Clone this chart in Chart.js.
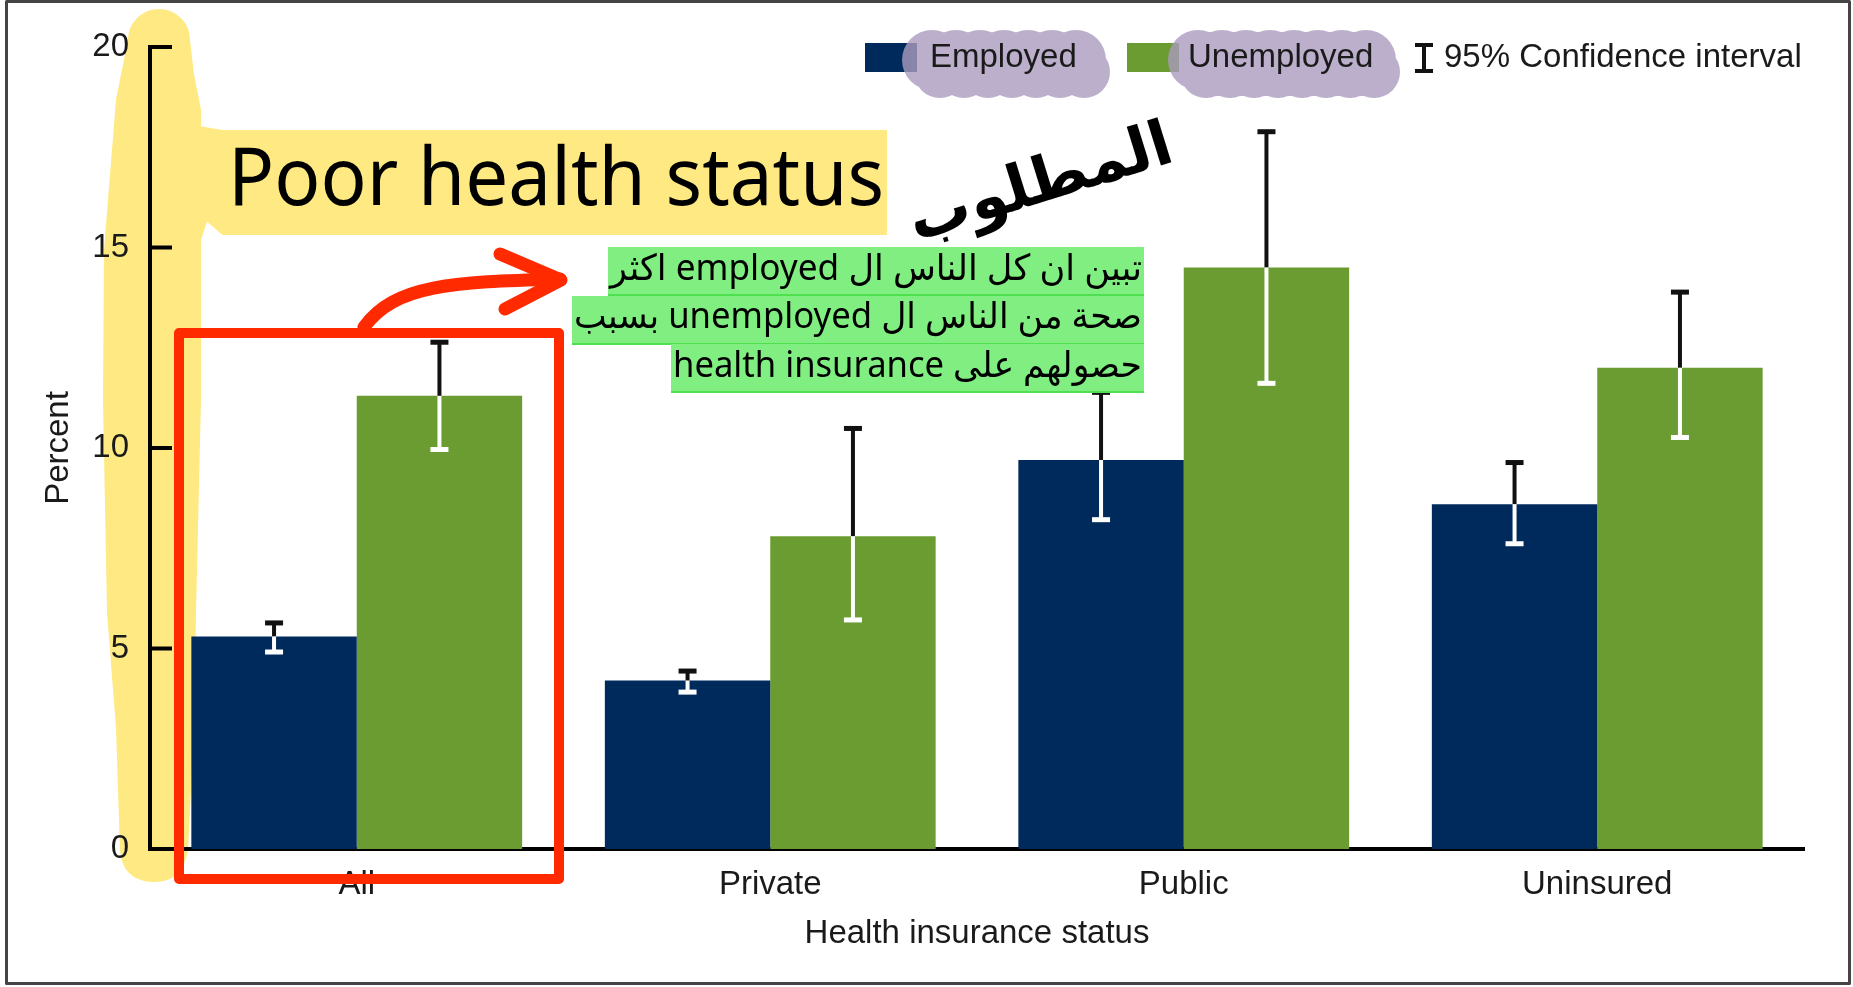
<!DOCTYPE html>
<html>
<head>
<meta charset="utf-8">
<title>Poor health status</title>
<script src="https://cdn.jsdelivr.net/npm/chart.js@4.4.0/dist/chart.umd.min.js"></script>
<style>
    html, body { margin: 0; padding: 0; background: #fff; }
    #wrap { width: 1853px; height: 987px; }
</style>
</head>
<body>
<div id="wrap"><canvas id="healthChart" width="1853" height="987"></canvas></div>
<script>
// Chart data
const categories = ['All', 'Private', 'Public', 'Uninsured'];
const employed = [5.3, 4.2, 9.7, 8.6];
const unemployed = [11.3, 7.8, 14.5, 12.0];
const employedLow = [4.9, 3.9, 8.2, 7.6];
const employedHigh = [5.65, 4.45, 11.4, 9.65];
const unemployedLow = [9.95, 5.7, 11.6, 10.25];
const unemployedHigh = [12.65, 10.5, 17.9, 13.9];
const yTicks = [0, 5, 10, 15, 20];

const NAVY = '#002a5c';
const GREEN = '#6b9c31';
const FONT = "'Liberation Sans', Arial, sans-serif";

document.addEventListener('DOMContentLoaded', function() {

    // Yellow marker stroke behind the y axis + title highlight
    const highlightPlugin = {
        id: 'highlight',
        beforeDraw(chart) {
            const ctx = chart.ctx;
            ctx.save();
            ctx.fillStyle = '#fee982';
            ctx.strokeStyle = '#fee982';
            ctx.lineWidth = 4;
            ctx.lineJoin = 'round';
            ctx.beginPath();
            ctx.moveTo(130, 40);
            ctx.arc(159, 40, 29, Math.PI, 0);
            const pts = [[192, 75], [199, 110], [199, 128], [222, 132], [222, 232], [206, 218], [199, 240],
                [199, 400], [194, 612], [192, 728], [186, 850]];
            pts.forEach(p => ctx.lineTo(p[0], p[1]));
            ctx.quadraticCurveTo(180, 882, 152, 880);
            ctx.quadraticCurveTo(124, 878, 122, 850);
            const back = [[118, 728], [109, 612], [105, 400], [106, 250], [118, 100]];
            back.forEach(p => ctx.lineTo(p[0], p[1]));
            ctx.closePath();
            ctx.fill();
            ctx.stroke();
            // title box
            ctx.fillRect(222, 130, 665, 105);
            ctx.restore();
        }
    };

    // Inward tick marks on the y axis
    const innerTicksPlugin = {
        id: 'innerTicks',
        afterDraw(chart) {
            const ctx = chart.ctx;
            const y = chart.scales.y;
            ctx.save();
            ctx.strokeStyle = '#000';
            ctx.lineWidth = 4;
            yTicks.forEach(v => {
                if (v === 0) return;
                const py = y.getPixelForValue(v);
                ctx.beginPath();
                ctx.moveTo(y.right, py);
                ctx.lineTo(y.right + 22, py);
                ctx.stroke();
            });
            ctx.restore();
        }
    };

    // 95% confidence interval bars
    const errorBarsPlugin = {
        id: 'errorBars',
        afterDatasetsDraw(chart) {
            const ctx = chart.ctx;
            const y = chart.scales.y;
            const ranges = [[employedLow, employedHigh], [unemployedLow, unemployedHigh]];
            ctx.save();
            ranges.forEach((r, di) => {
                chart.getDatasetMeta(di).data.forEach((bar, i) => {
                    const x = bar.x;
                    const top = y.getPixelForValue(r[1][i]);
                    const bottom = y.getPixelForValue(r[0][i]);
                    const barTop = bar.y;
                    ctx.lineWidth = 4;
                    // outside the bar: black
                    ctx.strokeStyle = '#111';
                    ctx.beginPath();
                    ctx.moveTo(x, top);
                    ctx.lineTo(x, Math.min(barTop, bottom));
                    ctx.stroke();
                    ctx.fillStyle = top < barTop ? '#111' : '#fff';
                    ctx.fillRect(x - 9, top - 2, 18, 5);
                    // inside the bar: white
                    ctx.strokeStyle = '#fff';
                    ctx.beginPath();
                    ctx.moveTo(x, Math.max(barTop, top));
                    ctx.lineTo(x, bottom);
                    ctx.stroke();
                    ctx.fillStyle = bottom > barTop ? '#fff' : '#111';
                    ctx.fillRect(x - 9, bottom - 3, 18, 5);
                });
            });
            ctx.restore();
        }
    };

    function blob(ctx, x0, x1, yc) {
        ctx.beginPath();
        for (let x = x0 + 28; x <= x1 - 28; x += 24) {
            ctx.moveTo(x + 30, yc - 4);
            ctx.arc(x, yc - 4, 30, 0, Math.PI * 2);
            ctx.moveTo(x + 8 + 26, yc + 8);
            ctx.arc(x + 8, yc + 8, 26, 0, Math.PI * 2);
        }
        ctx.fill();
    }

    // Legend, annotations, title and frame
    const overlayPlugin = {
        id: 'overlay',
        afterDraw(chart) {
            const ctx = chart.ctx;
            ctx.save();

            // legend
            ctx.fillStyle = NAVY;
            ctx.fillRect(865, 43, 52, 29);
            ctx.fillStyle = GREEN;
            ctx.fillRect(1127, 43, 52, 29);
            ctx.fillStyle = 'rgba(170, 155, 190, 0.8)';
            blob(ctx, 904, 1105, 64);
            blob(ctx, 1170, 1406, 64);
            ctx.fillStyle = '#111';
            ctx.fillRect(1422, 44, 4, 28);
            ctx.fillRect(1415, 43, 18, 4);
            ctx.fillRect(1415, 69, 18, 4);
            ctx.font = '33px ' + FONT;
            ctx.fillStyle = '#1a1a1a';
            ctx.textBaseline = 'middle';
            ctx.textAlign = 'left';
            ctx.fillText('Employed', 930, 58);
            ctx.fillText('Unemployed', 1188, 58);
            ctx.fillText('95% Confidence interval', 1444, 58);

            // title
            ctx.fillStyle = '#000';
            ctx.textBaseline = 'alphabetic';
            ctx.font = "80px 'Noto Sans', 'Open Sans', sans-serif";
            ctx.fillText('Poor health status', 228, 205, 656);

            // handwritten note
            ctx.save();
            ctx.translate(1040, 182);
            ctx.rotate(-0.3);
            ctx.font = "bold 62px 'DejaVu Sans', sans-serif";
            ctx.textAlign = 'center';
            ctx.direction = 'rtl';
            ctx.fillText('المطلوب', 0, 20, 280);
            ctx.restore();

            // arabic note on green
            const lines = [
                ['تبين ان كل الناس ال employed اكثر', 280, 247, 608],
                ['صحة من الناس ال unemployed بسبب', 328, 296, 572],
                ['حصولهم على health insurance', 377, 344, 671]
            ];
            lines.forEach(l => {
                ctx.fillStyle = '#80ee80';
                ctx.fillRect(l[3], l[2], 1144 - l[3], 48);
                ctx.fillStyle = '#4fe04f';
                ctx.fillRect(l[3], l[2] + 47, 1144 - l[3], 2);
            });
            ctx.fillStyle = '#000';
            ctx.font = "36px 'Noto Sans', 'DejaVu Sans', sans-serif";
            ctx.direction = 'rtl';
            ctx.textAlign = 'right';
            lines.forEach(l => ctx.fillText(l[0], 1142, l[1], 1140 - l[3]));
            ctx.direction = 'ltr';

            // red box and arrow
            ctx.strokeStyle = '#ff2a00';
            ctx.lineJoin = 'round';
            ctx.lineCap = 'round';
            ctx.lineWidth = 10;
            ctx.strokeRect(179, 333, 380, 546);
            ctx.lineWidth = 13;
            ctx.beginPath();
            ctx.moveTo(364, 327);
            ctx.bezierCurveTo(395, 285, 450, 282, 560, 279);
            ctx.stroke();
            ctx.beginPath();
            ctx.moveTo(500, 254);
            ctx.lineTo(561, 280);
            ctx.lineTo(505, 309);
            ctx.stroke();

            // outer frame
            ctx.strokeStyle = '#444';
            ctx.lineWidth = 3;
            ctx.strokeRect(6.5, 1.5, 1843, 982);
            ctx.restore();
        }
    };

    new Chart(document.getElementById('healthChart'), {
        type: 'bar',
        data: {
            labels: categories,
            datasets: [
                { label: 'Employed', data: employed, backgroundColor: NAVY, borderWidth: 0 },
                { label: 'Unemployed', data: unemployed, backgroundColor: GREEN, borderWidth: 0 }
            ]
        },
        options: {
            responsive: false,
            animation: false,
            layout: { padding: { top: 47, right: 49, left: 0, bottom: 0 } },
            datasets: { bar: { categoryPercentage: 0.8, barPercentage: 1.0 } },
            plugins: {
                legend: { display: false },
                tooltip: { enabled: false }
            },
            scales: {
                x: {
                    grid: { display: false, drawTicks: false },
                    border: { color: '#000', width: 4 },
                    ticks: { color: '#1a1a1a', padding: 16, font: { family: FONT, size: 33 } },
                    title: {
                        display: true,
                        text: 'Health insurance status',
                        color: '#1a1a1a',
                        padding: { top: 0, bottom: 33 },
                        font: { family: FONT, size: 33 }
                    },
                    afterFit: function(scale) { scale.height = 138; }
                },
                y: {
                    min: 0,
                    max: 20,
                    afterBuildTicks: function(scale) { scale.ticks = yTicks.map(v => ({ value: v })); },
                    grid: { display: false, drawTicks: false },
                    border: { color: '#000', width: 4 },
                    ticks: { color: '#1a1a1a', padding: 21, font: { family: FONT, size: 33 } },
                    title: {
                        display: true,
                        text: 'Percent',
                        color: '#1a1a1a',
                        padding: { top: 39, bottom: 0 },
                        font: { family: FONT, size: 33 }
                    },
                    afterFit: function(scale) { scale.width = 150; }
                }
            }
        },
        plugins: [highlightPlugin, innerTicksPlugin, errorBarsPlugin, overlayPlugin]
    });
});
</script>
</body>
</html>
